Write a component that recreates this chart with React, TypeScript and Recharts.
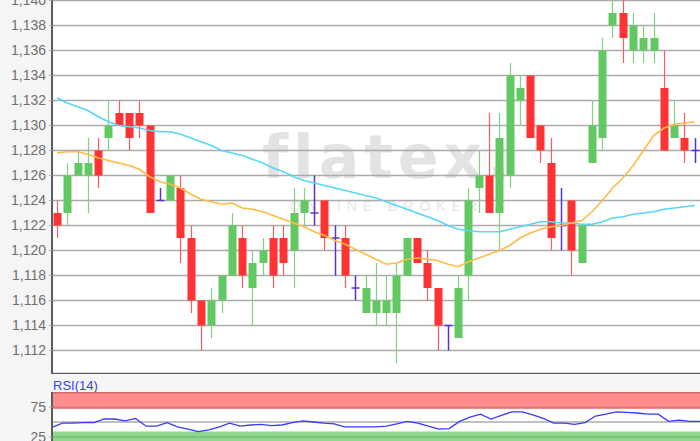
import {
  Bar,
  CartesianGrid,
  ComposedChart,
  Line,
  ReferenceArea,
  ReferenceLine,
  XAxis,
  YAxis,
} from 'recharts';

const opens = [
  1.123, 1.123, 1.126, 1.126, 1.128, 1.129, 1.131, 1.131, 1.131, 1.130,
  1.124, 1.124, 1.125, 1.121, 1.116, 1.114, 1.116, 1.118, 1.121, 1.117,
  1.119, 1.121, 1.121, 1.120, 1.123, 1.123, 1.124, 1.121, 1.121, 1.117,
  1.115, 1.115, 1.115, 1.115, 1.118, 1.121, 1.119, 1.117, 1.114, 1.113,
  1.118, 1.125, 1.126, 1.123, 1.126, 1.132, 1.134, 1.130, 1.127, 1.122,
  1.124, 1.119, 1.127, 1.129, 1.138, 1.139, 1.136, 1.136, 1.136, 1.133,
  1.129, 1.129, 1.128,
];
const closes = [
  1.122, 1.126, 1.127, 1.127, 1.126, 1.130, 1.130, 1.129, 1.130, 1.123,
  1.124, 1.126, 1.121, 1.116, 1.114, 1.116, 1.118, 1.122, 1.118, 1.119,
  1.120, 1.118, 1.119, 1.123, 1.124, 1.123, 1.121, 1.121, 1.118, 1.117,
  1.117, 1.116, 1.116, 1.118, 1.121, 1.119, 1.117, 1.114, 1.114, 1.117,
  1.124, 1.126, 1.123, 1.129, 1.134, 1.133, 1.129, 1.128, 1.121, 1.122,
  1.120, 1.122, 1.130, 1.136, 1.139, 1.137, 1.138, 1.137, 1.137, 1.128,
  1.130, 1.128, 1.128,
];
const highs = [
  1.124, 1.127, 1.128, 1.129, 1.129, 1.132, 1.132, 1.131, 1.132, 1.130,
  1.125, 1.126, 1.126, 1.122, 1.116, 1.117, 1.118, 1.123, 1.122, 1.120,
  1.121, 1.122, 1.122, 1.125, 1.125, 1.126, 1.124, 1.122, 1.122, 1.118,
  1.118, 1.119, 1.118, 1.119, 1.121, 1.121, 1.120, 1.117, 1.114, 1.118,
  1.125, 1.128, 1.131, 1.131, 1.135, 1.134, 1.134, 1.130, 1.129, 1.125,
  1.124, 1.122, 1.132, 1.137, 1.140, 1.1405, 1.139, 1.138, 1.139, 1.136,
  1.132, 1.131, 1.129,
];
const lows = [
  1.121, 1.122, 1.126, 1.123, 1.125, 1.128, 1.130, 1.128, 1.129, 1.123,
  1.124, 1.124, 1.119, 1.115, 1.112, 1.113, 1.115, 1.118, 1.117, 1.114,
  1.118, 1.117, 1.118, 1.117, 1.122, 1.122, 1.120, 1.118, 1.117, 1.116,
  1.115, 1.114, 1.114, 1.111, 1.118, 1.119, 1.116, 1.112, 1.112, 1.113,
  1.116, 1.123, 1.123, 1.120, 1.125, 1.130, 1.129, 1.127, 1.120, 1.120,
  1.118, 1.119, 1.127, 1.128, 1.137, 1.135, 1.135, 1.135, 1.135, 1.128,
  1.129, 1.127, 1.127,
];

// cyan (slow) and orange (fast) moving averages
const maSlow = [
  1.1322, 1.1318, 1.1315, 1.1312, 1.1307, 1.1303, 1.1300, 1.1299, 1.1298, 1.1296,
  1.1295, 1.1295, 1.1293, 1.1290, 1.1287, 1.1284, 1.1280, 1.1278, 1.1276, 1.1273,
  1.1270, 1.1266, 1.1263, 1.1259, 1.1256, 1.1254, 1.1252, 1.1250, 1.1248, 1.1246,
  1.1244, 1.1242, 1.1239, 1.1236, 1.1233, 1.1230, 1.1227, 1.1224, 1.1220, 1.1217,
  1.1216, 1.1215, 1.1215, 1.1215, 1.1217, 1.1219, 1.1221, 1.1223, 1.1223, 1.1222,
  1.1222, 1.1221, 1.1221, 1.1223, 1.1226, 1.1227, 1.1229, 1.1230, 1.1231, 1.1233,
  1.1234, 1.1235, 1.1236,
];
const maFast = [
  1.1278, 1.1279, 1.1279, 1.1277, 1.1274, 1.1272, 1.1270, 1.1268, 1.1265, 1.1259,
  1.1255, 1.1253, 1.1250, 1.1245, 1.1241, 1.1239, 1.1237, 1.1238, 1.1234, 1.1233,
  1.1231, 1.1228, 1.1225, 1.1222, 1.1219, 1.1215, 1.1212, 1.1208, 1.1205, 1.1201,
  1.1197, 1.1193, 1.1189, 1.1190, 1.1193, 1.1194, 1.1193, 1.1192, 1.1189, 1.1187,
  1.1191, 1.1194, 1.1197, 1.1200, 1.1204, 1.1210, 1.1214, 1.1217, 1.1219, 1.1220,
  1.1222, 1.1224, 1.1231, 1.1240, 1.1250, 1.1258, 1.1268, 1.1280, 1.1292, 1.1298,
  1.1301, 1.1302, 1.1303,
];
const rsiValues = [
  41, 48, 48, 49, 49, 55, 55, 52, 56, 43,
  43, 49, 42, 38, 34, 37, 42, 48, 43, 45,
  46, 44, 45, 49, 52, 50, 48, 47, 42, 42,
  42, 42, 43, 47, 51, 48, 43, 38, 39, 51,
  58, 63, 55, 61, 67, 67, 62, 56, 48, 48,
  46, 49, 60, 63, 67, 66, 65, 63, 63, 51,
  53, 51, 51,
];

const priceTicks = [1.112, 1.114, 1.116, 1.118, 1.12, 1.122, 1.124, 1.126, 1.128, 1.13, 1.132, 1.134, 1.136, 1.138, 1.14];
const rsiTicks = [25, 75];

const Y_MIN = 1.11012;
const Y_MAX = 1.14164;

const FONT = '"Liberation Sans", Arial, sans-serif';
const UP = '#62c962';
const DOWN = '#ff3333';
const DOJI = '#5a2fd6';

const rows = opens.map((open, i) => ({
  i,
  open,
  close: closes[i],
  high: highs[i],
  low: lows[i],
  range: [lows[i], highs[i]],
  maSlow: maSlow[i],
  maFast: maFast[i],
  rsi: rsiValues[i],
}));

function Candle(props: any) {
  const { x, y, width, height, payload } = props;
  if (!payload) return null;
  const { open, close, high, low } = payload;
  const top = Math.min(y, y + height);
  const h = Math.abs(height);
  const span = high - low || 1e-9;
  const toY = (v: number) => top + ((high - v) / span) * h;
  const cx = Math.round(x + width / 2) + 0.5;

  if (open === close) {
    return (
      <g>
        <line x1={cx} x2={cx} y1={toY(high)} y2={toY(low)} stroke={DOJI} strokeWidth={1.5} />
        <line x1={cx - 4} x2={cx + 4} y1={toY(open)} y2={toY(open)} stroke={DOJI} strokeWidth={1.5} />
      </g>
    );
  }
  const up = close > open;
  const bodyTop = toY(Math.max(open, close));
  const bodyBottom = toY(Math.min(open, close));
  return (
    <g>
      <line x1={cx} x2={cx} y1={toY(high)} y2={toY(low)} stroke={up ? '#7fd27f' : '#ff5a5a'} strokeWidth={1.2} />
      <rect x={cx - 4} y={bodyTop} width={8} height={Math.max(1, bodyBottom - bodyTop)} fill={up ? UP : DOWN} />
    </g>
  );
}

const tickStyle = { fill: '#707070', fontSize: 14, fontFamily: FONT };

export default function App() {
  return (
    <div style={{ position: 'absolute', left: 0, top: 0, width: 700, height: 441, overflow: 'hidden', background: '#f5f5f5' }}>
      <div style={{ position: 'absolute', left: 52, top: 0, width: 648, height: 374, background: '#fff' }} />
      <div style={{ position: 'absolute', left: 52, top: 392, width: 648, height: 49, background: '#fff' }} />

      <div style={{ position: 'absolute', left: 262, top: 122, fontFamily: '"DejaVu Sans", sans-serif', fontWeight: 700, fontSize: 60, letterSpacing: 5, color: '#e3e3e3', lineHeight: '70px' }}>
        flatex.
      </div>
      <div style={{ position: 'absolute', left: 290, top: 198, fontFamily: FONT, fontSize: 14, letterSpacing: 6, color: '#e6e6e6', lineHeight: '16px' }}>
        ONLINE BROKER
      </div>

      <div style={{ position: 'absolute', left: 0, top: -20 }}>
        <ComposedChart width={700} height={394} data={rows} margin={{ top: 0, right: 0, bottom: 0, left: 0 }}>
          <CartesianGrid horizontal vertical={false} stroke="#ababab" strokeWidth={1.6} />
          <XAxis dataKey="i" hide />
          <YAxis
            domain={[Y_MIN, Y_MAX]}
            allowDataOverflow
            ticks={priceTicks}
            interval={0}
            width={52}
            tickSize={3}
            tickMargin={3}
            tickFormatter={(v) => Number(v).toFixed(3).replace('.', ',')}
            tick={tickStyle}
            tickLine={{ stroke: '#ababab' }}
            axisLine={{ stroke: '#5c5c5c', strokeWidth: 2 }}
          />
          <Bar dataKey="range" barSize={8} shape={<Candle />} isAnimationActive={false} />
          <Line type="linear" dataKey="maSlow" stroke="#55d8f8" strokeWidth={1.6} dot={false} activeDot={false} isAnimationActive={false} />
          <Line type="linear" dataKey="maFast" stroke="#ffbb44" strokeWidth={1.6} dot={false} activeDot={false} isAnimationActive={false} />
          <ReferenceLine y={Y_MIN} stroke="#5c5c5c" strokeWidth={2.5} />
        </ComposedChart>
      </div>

      <div style={{ position: 'absolute', left: 53, top: 378, fontFamily: FONT, fontSize: 13, color: '#3344ee', lineHeight: '15px' }}>
        RSI(14)
      </div>

      <div style={{ position: 'absolute', left: 0, top: 392 }}>
        <ComposedChart width={700} height={60} data={rows} margin={{ top: 0, right: 0, bottom: 0, left: 0 }}>
          <XAxis dataKey="i" hide />
          <YAxis
            domain={[0, 100]}
            ticks={rsiTicks}
            interval={0}
            width={52}
            tickSize={3}
            tickMargin={3}
            tick={tickStyle}
            tickLine={{ stroke: '#ababab' }}
            axisLine={{ stroke: '#5c5c5c', strokeWidth: 2 }}
          />
          <ReferenceArea y1={72} y2={100} fill="#ff8b8b" fillOpacity={1} stroke="none" />
          <ReferenceArea y1={0} y2={34} fill="#8fd68f" fillOpacity={1} stroke="none" />
          <ReferenceLine y={99} stroke="#d26a6a" strokeWidth={2} />
          <ReferenceLine y={74} stroke="#d97272" strokeWidth={1.6} />
          <ReferenceLine y={50} stroke="#ababab" strokeWidth={1.6} />
          <ReferenceLine y={25} stroke="#6fbf6f" strokeWidth={1.6} />
          <Line type="linear" dataKey="rsi" stroke="#3a3aff" strokeWidth={1.3} dot={false} activeDot={false} isAnimationActive={false} />
        </ComposedChart>
      </div>
    </div>
  );
}
